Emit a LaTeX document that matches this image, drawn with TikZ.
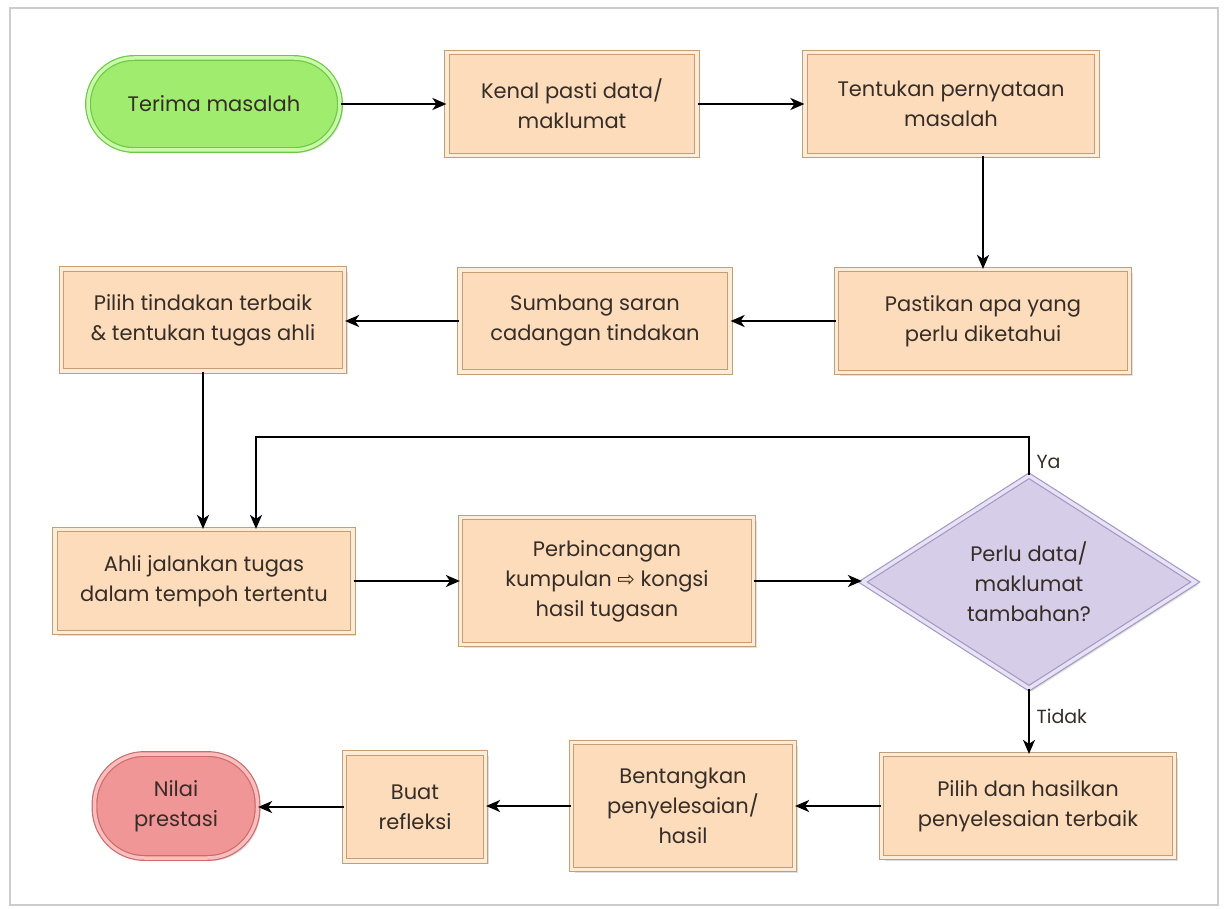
\documentclass[tikz,border=0pt]{standalone}
\usepackage{fontspec}
\setmainfont{Poppins}
\newfontfamily\symfont{DejaVu Sans}
\usetikzlibrary{arrows.meta,shapes.geometric,shadows}
\definecolor{peach}{RGB}{252,220,186}
\definecolor{peachlt}{RGB}{255,236,214}
\definecolor{peachbd}{RGB}{195,158,120}
\definecolor{grn}{RGB}{160,236,110}
\definecolor{grnlt}{RGB}{200,250,170}
\definecolor{grnbd}{RGB}{110,200,68}
\definecolor{rd}{RGB}{240,150,150}
\definecolor{rdlt}{RGB}{250,190,190}
\definecolor{rdbd}{RGB}{205,108,108}
\definecolor{lav}{RGB}{214,206,232}
\definecolor{lavlt}{RGB}{232,226,245}
\definecolor{lavbd}{RGB}{165,152,196}
\definecolor{txt}{RGB}{55,45,40}
\tikzset{
  x=1pt,y=-1pt,
  every node/.style={font=\fontsize{21}{30}\selectfont, text=txt, align=center},
  shad/.style={drop shadow={opacity=0.25,shadow xshift=3pt,shadow yshift=-3pt}},
  stepbox/.style={rectangle, shad, draw=peachbd, fill=peach, line width=1.2pt,
     double=peachlt, double distance=3.5pt, inner sep=2pt},
  startbox/.style={rectangle, shad, draw=grnbd, fill=grn, line width=1.2pt,
     double=grnlt, double distance=3.5pt},
  endbox/.style={rectangle, shad, draw=rdbd, fill=rd, line width=1.2pt,
     double=rdlt, double distance=3.5pt},
  decbox/.style={diamond, shad, draw=lavbd, fill=lav, line width=1.2pt,
     double=lavlt, double distance=3.5pt, inner sep=0pt},
  arr/.style={-{Stealth[length=14pt,width=12pt,inset=4pt]}, line width=2pt, black},
  lbl/.style={font=\fontsize{19}{22}\selectfont, anchor=west}
}
\begin{document}
\begin{tikzpicture}
\useasboundingbox (0,0) rectangle (1225,909);
\fill[white] (0,0) rectangle (1225,909);
\draw[black!20, line width=1.5pt] (10,8) rectangle (1218,905);

\node[startbox, rounded corners=46pt, minimum width=252, minimum height=92] (n1) at (214,104) {Terima masalah};
\node[stepbox, minimum width=250, minimum height=103] (n2) at (572,104) {Kenal pasti data/\\maklumat};
\node[stepbox, minimum width=292, minimum height=103] (n3) at (951,104) {Tentukan pernyataan\\masalah};
\node[stepbox, minimum width=293, minimum height=103] (n4) at (983,321) {Pastikan apa yang\\perlu diketahui};
\node[stepbox, minimum width=270, minimum height=102] (n5) at (595,321) {Sumbang saran\\cadangan tindakan};
\node[stepbox, minimum width=283, minimum height=102] (n6) at (203,320) {Pilih tindakan terbaik\\\& tentukan tugas ahli};
\node[stepbox, minimum width=298, minimum height=103] (n7) at (204,581) {Ahli jalankan tugas\\dalam tempoh tertentu};
\node[stepbox, minimum width=293, minimum height=127] (n8) at (607,581) {Perbincangan\\kumpulan {\symfont ⇨} kongsi\\hasil tugasan};
\node[decbox, minimum width=333, minimum height=213] (n9) at (1029,582) {Perlu data/\\maklumat\\tambahan?};
\node[stepbox, minimum width=293, minimum height=103] (n10) at (1028,806) {Pilih dan hasilkan\\penyelesaian terbaik};
\node[stepbox, minimum width=223, minimum height=127] (n11) at (683,806) {Bentangkan\\penyelesaian/\\hasil};
\node[stepbox, minimum width=141, minimum height=108] (n12) at (415,807) {Buat\\refleksi};
\node[endbox, rounded corners=50pt, minimum width=163, minimum height=104] (n13) at (176,806) {Nilai\\prestasi};

\coordinate (loopc) at (256,437);

\draw[arr] (n1) -- (n2);
\draw[arr] (n2) -- (n3);
\draw[arr] (n3.south -| n4.north) -- (n4.north);
\draw[arr] (n4.west) -- (n4.west -| n5.east);
\draw[arr] (n5.west) -- (n5.west -| n6.east);
\draw[arr] (n6.south) -- (n6.south |- n7.north);
\draw[arr] (n9.north) |- (loopc) -- (loopc |- n7.north);
\draw[arr] (n7) -- (n8);
\draw[arr] (n8.east) -- (n8.east -| n9.west);
\draw[arr] (n9.south) -- (n9.south |- n10.north);
\draw[arr] (n10) -- (n11);
\draw[arr] (n11.west) -- (n11.west -| n12.east);
\draw[arr] (n12.west) -- (n12.west -| n13.east);

\node[lbl] (ya) at (1033,462) {Ya};
\node[lbl] (tidak) at (1033,716) {Tidak};
\end{tikzpicture}
\end{document}
